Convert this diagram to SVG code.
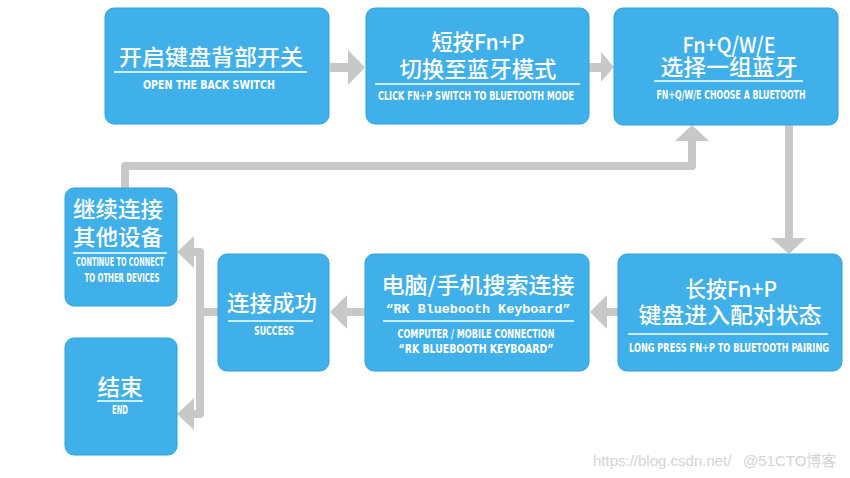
<svg xmlns="http://www.w3.org/2000/svg" width="850" height="478" viewBox="0 0 850 478">
<style>
.box{fill:#3fb0e9;stroke:#2ea2de;stroke-width:1}
.t{font-family:"Noto Sans CJK SC","Noto Sans",sans-serif;font-size:22px;font-weight:500;fill:#fff;text-anchor:middle}
.s{font-family:"Liberation Sans Narrow","DejaVu Sans Condensed","Liberation Sans",sans-serif;font-size:12px;font-weight:bold;fill:#fff;text-anchor:middle}
.q{font-family:"Liberation Mono","DejaVu Sans Mono",monospace;font-size:12px;font-weight:bold;fill:#fff;text-anchor:middle}
.u{stroke:#fff;stroke-width:1.6}
.c{fill:none;stroke:#c8c8c8;stroke-width:8}
.h{fill:#c8c8c8}
.w{font-family:"Liberation Sans","DejaVu Sans","Noto Sans CJK SC",sans-serif;font-size:15px;fill:#d4d4d4}
</style>
<rect width="850" height="478" fill="#fff"/>
<g id="connectors">
  <rect class="h" x="330" y="63" width="19" height="9"/>
  <polygon class="h" points="348,50 365,67.5 348,85"/>
  <rect class="h" x="589" y="63" width="13" height="9"/>
  <polygon class="h" points="601,52 614,67 601,82"/>
  <path class="c" d="M789 125 V239"/>
  <polygon class="h" points="771,238 806,238 789,254"/>
  <rect class="h" x="606" y="308" width="12" height="8"/>
  <polygon class="h" points="607,295 590,312 607,329"/>
  <rect class="h" x="346" y="308" width="19" height="8"/>
  <polygon class="h" points="347,295 330,312 347,329"/>
  <path class="c" d="M218 312 H200"/>
  <path class="c" d="M192 252 H200 V414 H192" stroke-linejoin="round"/>
  <polygon class="h" points="194,236 177,252 194,268"/>
  <polygon class="h" points="194,398 177,414 194,430"/>
  <path class="c" d="M125 188 V166 H692 V140" stroke-linejoin="round"/>
  <polygon class="h" points="675,141 692,125 709,141"/>
</g>
<g id="n1">
  <rect class="box" x="105" y="8" width="224" height="116" rx="9"/>
  <text class="t" x="211" y="65" textLength="184" lengthAdjust="spacingAndGlyphs">开启键盘背部开关</text>
  <line class="u" x1="114" y1="72" x2="307" y2="72"/>
  <text class="s" x="209" y="89" textLength="132" lengthAdjust="spacingAndGlyphs">OPEN THE BACK SWITCH</text>
</g>
<g id="n2">
  <rect class="box" x="366" y="8" width="223" height="116" rx="9"/>
  <text class="t"><tspan x="478" y="50" textLength="93" lengthAdjust="spacingAndGlyphs">短按Fn+P</tspan><tspan x="478" y="77" textLength="157" lengthAdjust="spacingAndGlyphs">切换至蓝牙模式</tspan></text>
  <line class="u" x1="375" y1="84" x2="580" y2="84"/>
  <text class="s" x="476" y="100" textLength="196" lengthAdjust="spacingAndGlyphs">CLICK FN+P SWITCH TO BLUETOOTH MODE</text>
</g>
<g id="n3">
  <rect class="box" x="614" y="8" width="224" height="117" rx="9"/>
  <text class="t"><tspan x="729" y="53" textLength="93" lengthAdjust="spacingAndGlyphs">Fn+Q/W/E</tspan><tspan x="729" y="75" textLength="137" lengthAdjust="spacingAndGlyphs">选择一组蓝牙</tspan></text>
  <line class="u" x1="654" y1="81" x2="803" y2="81"/>
  <text class="s" x="731" y="99" textLength="149" lengthAdjust="spacingAndGlyphs">FN+Q/W/E CHOOSE A BLUETOOTH</text>
</g>
<g id="n4">
  <rect class="box" x="65" y="188" width="112" height="118" rx="9"/>
  <text class="t"><tspan x="118" y="217" textLength="90" lengthAdjust="spacingAndGlyphs">继续连接</tspan><tspan x="118" y="245" textLength="90" lengthAdjust="spacingAndGlyphs">其他设备</tspan></text>
  <line class="u" x1="73" y1="253" x2="167" y2="253"/>
  <text class="s"><tspan x="120" y="266" textLength="88" lengthAdjust="spacingAndGlyphs">CONTINUE TO CONNECT</tspan><tspan x="122" y="282" textLength="75" lengthAdjust="spacingAndGlyphs">TO OTHER DEVICES</tspan></text>
</g>
<g id="n5">
  <rect class="box" x="218" y="254" width="111" height="117" rx="9"/>
  <text class="t" x="272" y="311" textLength="90" lengthAdjust="spacingAndGlyphs">连接成功</text>
  <line class="u" x1="228" y1="321" x2="313" y2="321"/>
  <text class="s" x="274" y="335" textLength="40" lengthAdjust="spacingAndGlyphs">SUCCESS</text>
</g>
<g id="n6">
  <rect class="box" x="365" y="254" width="224" height="117" rx="9"/>
  <text class="t" x="478" y="293" textLength="193" lengthAdjust="spacingAndGlyphs">电脑/手机搜索连接</text>
  <text class="q" x="478" y="313" textLength="185" lengthAdjust="spacingAndGlyphs">“RK Bluebooth Keyboard”</text>
  <line class="u" x1="383" y1="321" x2="574" y2="321"/>
  <text class="s"><tspan x="476" y="338" textLength="157" lengthAdjust="spacingAndGlyphs">COMPUTER / MOBILE CONNECTION</tspan><tspan x="476" y="353" textLength="155" lengthAdjust="spacingAndGlyphs">“RK BLUEBOOTH KEYBOARD”</tspan></text>
</g>
<g id="n7">
  <rect class="box" x="618" y="254" width="224" height="117" rx="9"/>
  <text class="t"><tspan x="731" y="297" textLength="92" lengthAdjust="spacingAndGlyphs">长按Fn+P</tspan><tspan x="730" y="323" textLength="183" lengthAdjust="spacingAndGlyphs">键盘进入配对状态</tspan></text>
  <line class="u" x1="628" y1="334" x2="828" y2="334"/>
  <text class="s" x="729" y="352" textLength="200" lengthAdjust="spacingAndGlyphs">LONG PRESS FN+P TO BLUETOOTH PAIRING</text>
</g>
<g id="n8">
  <rect class="box" x="65" y="338" width="112" height="117" rx="9"/>
  <text class="t" x="120" y="395" textLength="45" lengthAdjust="spacingAndGlyphs">结束</text>
  <line class="u" x1="97" y1="401" x2="143" y2="401"/>
  <text class="s" x="120" y="414" textLength="16" lengthAdjust="spacingAndGlyphs">END</text>
</g>
<g id="watermark">
  <text class="w" x="593" y="466">https://blog.csdn.net/</text>
  <text class="w" x="743" y="466">@51CTO博客</text>
</g>
</svg>
